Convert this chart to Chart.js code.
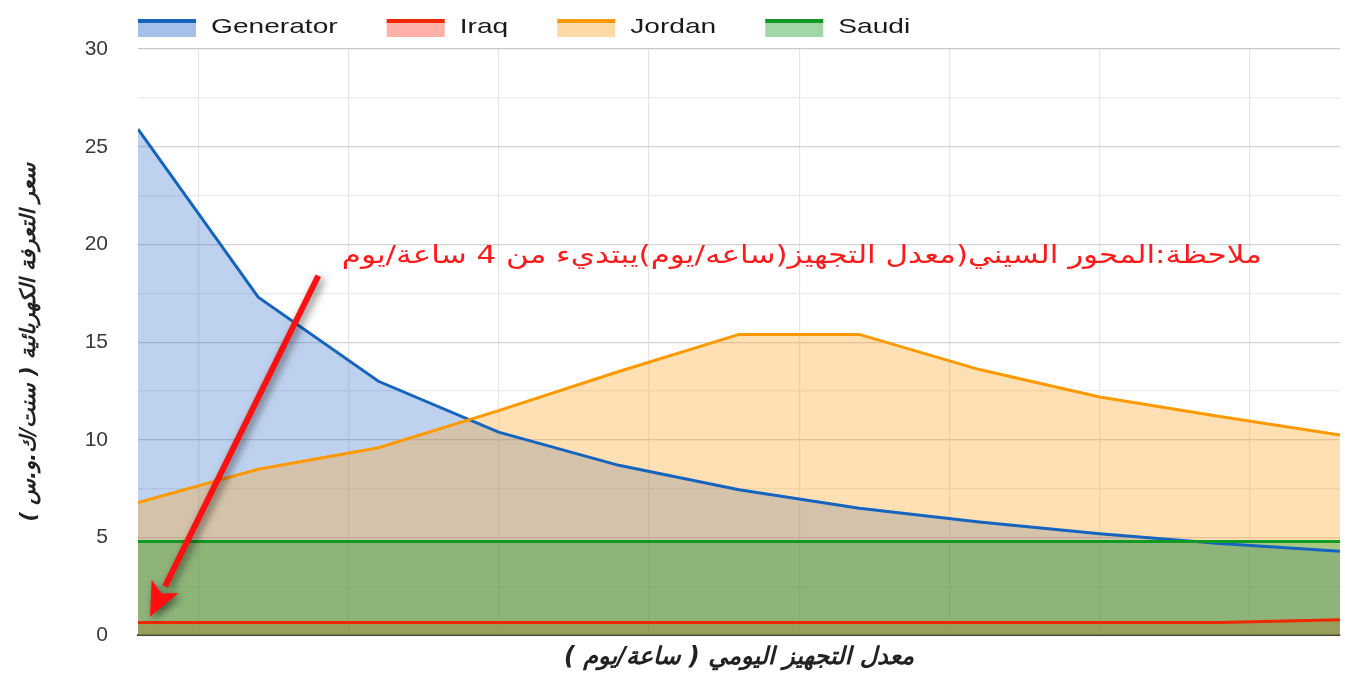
<!DOCTYPE html>
<html>
<head>
<meta charset="utf-8">
<script src="https://cdn.jsdelivr.net/npm/chart.js@4.4.0/dist/chart.umd.min.js"></script>
<style>
  html, body { margin: 0; padding: 0; background: #fff; }
  #cadre { width: 1345px; height: 678px; position: relative; }
</style>
</head>
<body>
<div id="cadre"><canvas id="graphique"></canvas></div>
<script>
// donnees (axe X : heures d'alimentation par jour, commence a 4)
const heures = [4, 5, 6, 7, 8, 9, 10, 11, 12, 13, 14];
const generator = [25.9, 17.3, 13.0, 10.4, 8.7, 7.45, 6.5, 5.8, 5.2, 4.7, 4.3];
const iraq = [0.66, 0.66, 0.66, 0.66, 0.66, 0.66, 0.66, 0.66, 0.66, 0.66, 0.8];
const jordan = [6.8, 8.5, 9.6, 11.5, 13.5, 15.4, 15.4, 13.6, 12.2, 11.2, 10.25];
const saudi = [4.8, 4.8, 4.8, 4.8, 4.8, 4.8, 4.8, 4.8, 4.8, 4.8, 4.8];

// lignes verticales de la grille (pas de libelles sur l'axe X)
const grilleX = [4.5, 5.75, 7, 8.25, 9.5, 10.75, 12, 13.25];
const ticksY = [0, 5, 10, 15, 20, 25, 30];

const nomsSeries = ['Generator', 'Iraq', 'Jordan', 'Saudi'];
const couleurs = ['#1565c0', '#f02800', '#ff9900', '#109a22'];
const remplissages = ['rgba(30,100,200,0.29)', 'rgba(255,60,40,0.32)', 'rgba(255,160,30,0.33)', 'rgba(20,155,35,0.36)'];

const titreY = 'سعر التعرفة الكهربائية ( سنت/ك.و.س )';
const titreX = 'معدل التجهيز اليومي ( ساعة/يوم )';
const noteTexte = 'ملاحظة:المحور السيني(معدل التجهيز(ساعه/يوم)يبتديء من 4 ساعة/يوم';
// position de la note et de la fleche, en unites des axes
const notePos = { x: 13.35, y: 19.4 };
const flecheDebut = { x: 5.5, y: 18.4 };
const flecheFin = { x: 4.1, y: 0.95 };

const series = [generator, iraq, jordan, saudi];
const ordres = [4, 3, 2, 1]; // Saudi dessine au-dessus

const datasets = series.map((valeurs, i) => ({
    label: nomsSeries[i],
    data: heures.map((h, k) => ({ x: h, y: valeurs[k] })),
    borderColor: couleurs[i],
    backgroundColor: remplissages[i],
    borderWidth: 3,
    fill: 'origin',
    tension: 0,
    pointRadius: 0,
    order: ordres[i]
}));

// legende facon Google : trait + aplat clair
const legendePerso = {
    id: 'legendePerso',
    afterDraw(chart) {
        const ctx = chart.ctx;
        const etirement = 1.34;
        let x = chart.chartArea.left;
        ctx.save();
        ctx.font = '21px "Liberation Sans", Arial, sans-serif';
        ctx.textBaseline = 'middle';
        ctx.textAlign = 'left';
        nomsSeries.forEach((nom, i) => {
            ctx.fillStyle = remplissages[i].replace(/[\d.]+\)$/, '0.4)');
            ctx.fillRect(x, 22, 58, 15);
            ctx.fillStyle = couleurs[i];
            ctx.fillRect(x, 19, 58, 4);
            const tx = x + 73;
            ctx.save();
            ctx.translate(tx, 27);
            ctx.scale(etirement, 1);
            ctx.fillStyle = '#1a1a1a';
            ctx.fillText(nom, 0, 0);
            ctx.restore();
            x = tx + ctx.measureText(nom).width * etirement + 49;
        });
        ctx.restore();
    }
};

// note rouge et fleche
const notePerso = {
    id: 'notePerso',
    afterDatasetsDraw(chart) {
        const ctx = chart.ctx;
        const sx = chart.scales.x, sy = chart.scales.y;
        const x1 = sx.getPixelForValue(flecheDebut.x), y1 = sy.getPixelForValue(flecheDebut.y);
        const x2 = sx.getPixelForValue(flecheFin.x), y2 = sy.getPixelForValue(flecheFin.y);
        const ang = Math.atan2(y2 - y1, x2 - x1);
        ctx.save();
        ctx.shadowColor = 'rgba(0,0,0,0.55)';
        ctx.shadowBlur = 8;
        ctx.shadowOffsetX = 3;
        ctx.shadowOffsetY = 3;
        ctx.strokeStyle = '#ff1010';
        ctx.fillStyle = '#ff1010';
        ctx.lineWidth = 6;
        const bx = x2 - Math.cos(ang) * 34, by = y2 - Math.sin(ang) * 34;
        ctx.beginPath();
        ctx.moveTo(x1, y1);
        ctx.lineTo(bx, by);
        ctx.stroke();
        ctx.beginPath();
        ctx.moveTo(x2, y2);
        ctx.lineTo(bx + Math.cos(ang + Math.PI / 2) * 15, by + Math.sin(ang + Math.PI / 2) * 15);
        ctx.lineTo(x2 - Math.cos(ang) * 26, y2 - Math.sin(ang) * 26);
        ctx.lineTo(bx + Math.cos(ang - Math.PI / 2) * 15, by + Math.sin(ang - Math.PI / 2) * 15);
        ctx.closePath();
        ctx.fill();
        ctx.restore();

        // texte etire horizontalement comme sur l'image d'origine
        const etirement = 1.24;
        ctx.save();
        ctx.font = '25px "DejaVu Sans", sans-serif';
        ctx.direction = 'rtl';
        ctx.textAlign = 'right';
        ctx.textBaseline = 'middle';
        ctx.fillStyle = '#ff1a1a';
        ctx.translate(sx.getPixelForValue(notePos.x), sy.getPixelForValue(notePos.y));
        ctx.scale(etirement, 1);
        ctx.fillText(noteTexte, 0, 0);
        ctx.restore();
    }
};

const ctx = document.getElementById('graphique').getContext('2d');
new Chart(ctx, {
    type: 'line',
    data: { datasets: datasets },
    options: {
        responsive: true,
        maintainAspectRatio: false,
        animation: false,
        layout: { padding: { top: 49, right: 5, left: 0, bottom: 0 } },
        plugins: {
            legend: { display: false },
            tooltip: { enabled: false },
            filler: { drawTime: 'beforeDatasetsDraw' }
        },
        scales: {
            x: {
                type: 'linear',
                min: heures[0],
                max: heures[heures.length - 1],
                afterBuildTicks: (scale) => { scale.ticks = grilleX.map(v => ({ value: v })); },
                afterFit: (scale) => { scale.height = 38; },
                ticks: { display: false },
                grid: { color: '#e6e6e6', lineWidth: 1.2, drawTicks: false },
                border: { display: true, color: '#444', width: 2 },
                title: {
                    display: true,
                    text: titreX,
                    color: '#222',
                    font: { family: 'DejaVu Sans', size: 24, weight: 'bold', style: 'italic' },
                    padding: { top: 2, bottom: 1 }
                }
            },
            y: {
                min: 0,
                max: 30,
                afterBuildTicks: (scale) => {
                    const t = [];
                    for (let v = 0; v <= 30; v += 2.5) t.push({ value: v });
                    scale.ticks = t;
                },
                afterFit: (scale) => { scale.width = 138; },
                ticks: {
                    padding: 30,
                    color: '#3a3a3a',
                    font: { family: 'Liberation Sans', size: 21 },
                    callback: (v) => ticksY.includes(v) ? String(v) : ''
                },
                grid: {
                    drawTicks: false,
                    lineWidth: 1.2,
                    color: (c) => {
                        const v = c.tick ? c.tick.value : 0;
                        if (v === 30) return '#c8c8c8';
                        return ticksY.includes(v) ? '#d4d4d4' : '#ececec';
                    }
                },
                border: { display: false },
                title: {
                    display: true,
                    text: titreY,
                    color: '#222',
                    font: { family: 'DejaVu Sans', size: 21, weight: 'bold', style: 'italic' },
                    padding: { top: 17, bottom: 4 }
                }
            }
        }
    },
    plugins: [legendePerso, notePerso]
});
</script>
</body>
</html>
